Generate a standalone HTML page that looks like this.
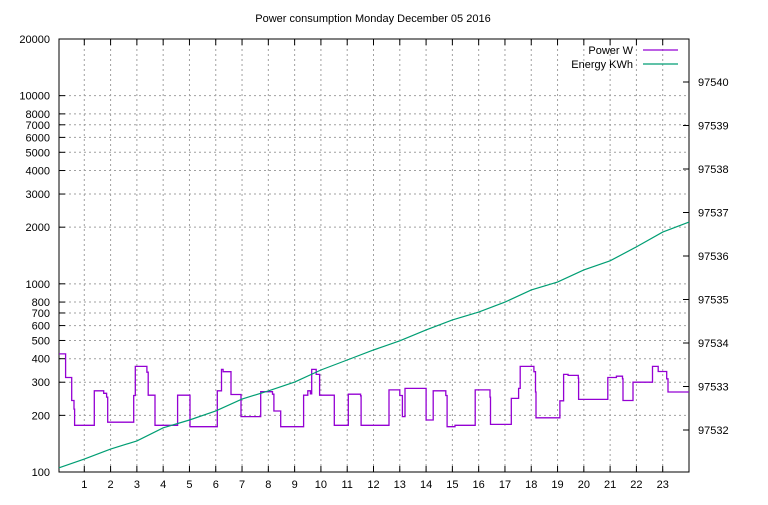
<!DOCTYPE html>
<html><head><meta charset="utf-8"><style>
body{margin:0;background:#fff}
svg text{font-family:"Liberation Sans",sans-serif;font-size:11px;fill:#000}
</style></head><body>
<svg id="c" width="768" height="500" xmlns="http://www.w3.org/2000/svg">
<rect width="768" height="500" fill="#fff"/>
<text x="373" y="22" text-anchor="middle">Power consumption Monday December 05 2016</text>
</svg>
<script>
const leftTicks=[100,200,300,400,500,600,700,800,1000,2000,3000,4000,5000,6000,7000,8000,10000,20000];
const rightTicks=[97532,97533,97534,97535,97536,97537,97538,97539,97540];
const hourTicks=[1,2,3,4,5,6,7,8,9,10,11,12,13,14,15,16,17,18,19,20,21,22,23];
const powerHours=[0,0.29,0.52,0.61,0.63,1.38,1.74,1.85,1.89,2.88,2.94,3.38,3.43,3.69,4.55,5.02,6.06,6.22,6.28,6.58,6.96,7.71,7.75,8.16,8.21,8.47,9.34,9.5,9.6,9.65,9.82,9.95,10.51,11.04,11.51,11.53,12.59,13.0,13.1,13.2,14.0,14.27,14.75,14.8,15.1,15.87,16.43,16.45,17.24,17.52,17.58,18.1,18.16,18.18,19.09,19.23,19.4,19.79,19.8,20.91,21.24,21.47,21.49,21.87,22.61,22.83,23.15,23.2];
const powerValues=[424,318,240,216,177,270,262,250,184,255,364,339,256,177,256,174,270,351,341,258,197,267,267,259,211,174,256,270,260,351,330,256,177,259,254,177,273,255,197,278,189,270,255,174,177,273,250,179,246,278,364,341,266,194,239,330,326,315,243,318,323,313,240,300,364,342,313,266];
const energyHours=[0,1,2,3,4,5,6,7,8,9,10,11,12,13,14,15,16,17,18,19,20,21,22,23,24];
const energyValues=[97531.13,97531.33,97531.56,97531.75,97532.05,97532.23,97532.44,97532.71,97532.90,97533.10,97533.38,97533.61,97533.84,97534.05,97534.30,97534.53,97534.71,97534.94,97535.22,97535.40,97535.68,97535.89,97536.21,97536.55,97536.78];
const L=59,R=689,T=39,B=472;
const xS=h=>58+h*(R-58)/24;
const yL=v=>B-(Math.log10(v)-2)/Math.log10(200)*(B-T);
const yR=v=>430-(v-97532)*43.5;
const svg=document.getElementById('c');const NS='http://www.w3.org/2000/svg';
function mk(t,a,p){const e=document.createElementNS(NS,t);for(const k in a)e.setAttribute(k,a[k]);(p||svg).appendChild(e);return e;}
const grid=mk('g',{});


leftTicks.forEach(v=>{const y=yL(v);
 if(v>100&&v<20000)mk('line',{x1:L,x2:R,y1:y,y2:y,stroke:'#a0a0a0','stroke-dasharray':'2,3'},grid);
 mk('line',{x1:L,x2:L+6,y1:y,y2:y,stroke:'#000'});
 const t=mk('text',{x:L-9,y:y+4,'text-anchor':'end'});t.textContent=v;
 
 });
rightTicks.forEach(v=>{const y=yR(v);
 mk('line',{x1:R-6,x2:R,y1:y,y2:y,stroke:'#000'});
 const t=mk('text',{x:R+9,y:y+4});t.textContent=v;
 
 });
hourTicks.forEach(h=>{const x=xS(h);
 mk('line',{x1:x,x2:x,y1:T,y2:B,stroke:'#a0a0a0','stroke-dasharray':'2,3'},grid);
 mk('line',{x1:x,x2:x,y1:B,y2:B-6,stroke:'#000'});
 mk('line',{x1:x,x2:x,y1:T,y2:T+6,stroke:'#000'});
 const t=mk('text',{x:x,y:B+16,'text-anchor':'middle'});t.textContent=h;
 
 });
const bd=mk('rect',{x:L,y:T,width:R-L,height:B-T,fill:'none',stroke:'#000'});


let d='';powerHours.forEach((h,i)=>{const x=xS(h),y=yL(powerValues[i]);d+=(i?'H'+x.toFixed(1)+'V':'M'+Math.max(L,x)+','+'')+y.toFixed(1);});
d+='H'+R;
const pl=mk('path',{d:d,fill:'none',stroke:'#9400d3','stroke-width':1.3});


const ep=energyHours.map((h,i)=>Math.max(L,xS(h)).toFixed(1)+','+yR(energyValues[i]).toFixed(1)).join(' ');
const el=mk('polyline',{points:ep,fill:'none',stroke:'#009e73','stroke-width':1.2});


[['Power W','#9400d3',50],['Energy KWh','#009e73',64]].forEach(([n,c,y])=>{
 const g=mk('g',{});
 
 
 const t=mk('text',{x:633,y:y+4,'text-anchor':'end'},g);t.textContent=n;
 mk('line',{x1:643,x2:678,y1:y,y2:y,stroke:c,'stroke-width':1.2},g);});
</script>
</body></html>
